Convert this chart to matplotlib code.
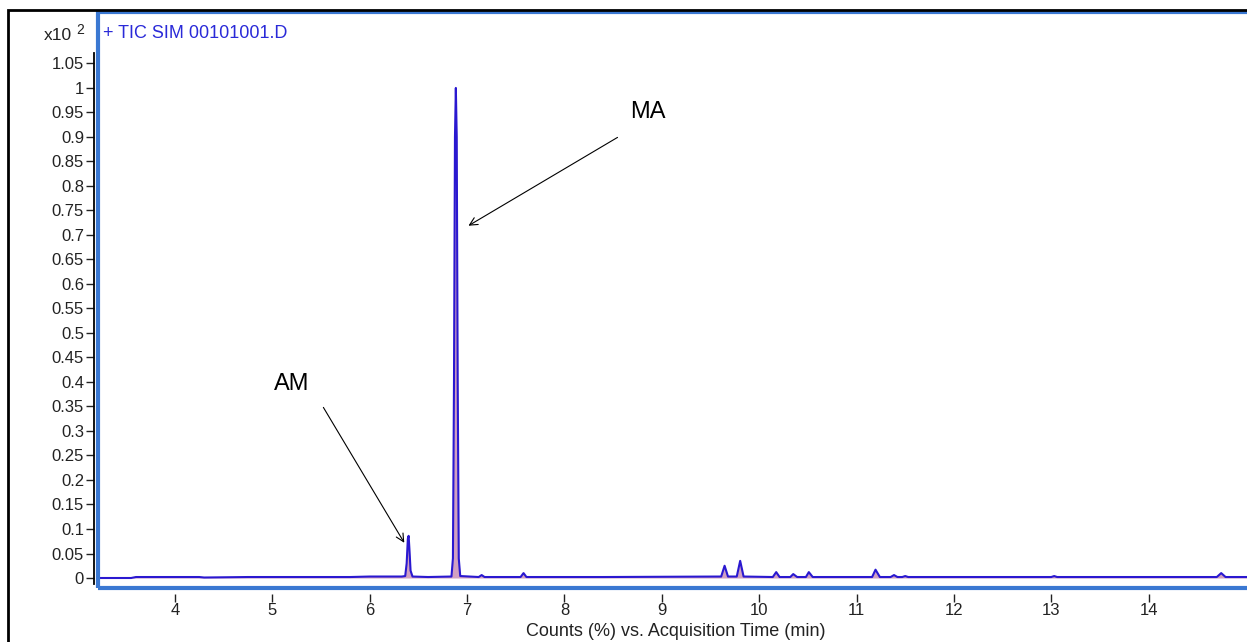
import matplotlib.pyplot as plt
import numpy as np
from matplotlib.patches import Rectangle
from matplotlib.ticker import FuncFormatter

plt.rcParams['font.family'] = ['Liberation Sans', 'DejaVu Sans']

# chromatogram vertices (time in min, counts x10^2 %)
times = [3.22, 3.55, 3.60, 4.25, 4.30, 4.75, 5.05, 5.80, 6.00, 6.33,
         6.365, 6.38, 6.392, 6.40, 6.408, 6.42, 6.44, 6.60, 6.84,
         6.855, 6.866, 6.876, 6.885, 6.894, 6.904, 6.915, 6.93, 7.12, 7.15, 7.18,
         7.40, 7.55, 7.58, 7.61, 8.40, 9.61, 9.645, 9.68, 9.77, 9.805,
         9.84, 10.14, 10.175, 10.21, 10.32, 10.35, 10.39, 10.48, 10.51,
         10.55, 11.16, 11.195, 11.24, 11.35, 11.385, 11.42, 11.47, 11.50,
         11.53, 13.00, 13.03, 13.06, 14.70, 14.745, 14.79, 15.20]
counts = [0.0, 0.0, 0.002, 0.002, 0.001, 0.002, 0.002, 0.002, 0.003, 0.003,
          0.004, 0.03, 0.08, 0.086, 0.06, 0.015, 0.003, 0.002, 0.003,
          0.04, 0.4, 0.9, 1.0, 0.9, 0.4, 0.04, 0.004, 0.002, 0.006, 0.002,
          0.002, 0.002, 0.010, 0.002, 0.002, 0.003, 0.025, 0.003, 0.003, 0.035,
          0.003, 0.002, 0.012, 0.002, 0.002, 0.008, 0.002, 0.002, 0.012,
          0.002, 0.002, 0.017, 0.002, 0.002, 0.006, 0.002, 0.002, 0.004,
          0.002, 0.002, 0.004, 0.002, 0.002, 0.010, 0.002, 0.002]

ytick_vals = [round(0.05 * i, 2) for i in range(22)]
xtick_vals = [4, 5, 6, 7, 8, 9, 10, 11, 12, 13, 14]

W, H = 1247, 642
fig = plt.figure(figsize=(W / 100, H / 100), dpi=100)
ax = fig.add_axes([98 / W, 1 - 588 / H, 0.93, (588 - 12) / H])

frame_blue = '#3a78d2'
trace_blue = '#2a18d0'

ax.fill_between(times, 0, counts, color='#c98fb6', alpha=0.85, lw=0)
ax.plot(times, counts, color=trace_blue, lw=1.5)

ax.set_xlim(3.21, 15.12)
ax.set_ylim(-0.0204, 1.155)

# axes styling
for s in ['top', 'right']:
    ax.spines[s].set_visible(False)
ax.spines['left'].set_position(('outward', 3))
ax.spines['left'].set_bounds(-0.012, 1.071)
ax.spines['left'].set_linewidth(1.3)
ax.spines['bottom'].set_position(('outward', 4))
ax.spines['bottom'].set_color('none')
ax.add_patch(Rectangle((0, 0), 1, 1, transform=ax.transAxes, fill=False,
                       ec=frame_blue, lw=3, clip_on=False, zorder=5))

ax.set_yticks(ytick_vals)
ax.yaxis.set_major_formatter(FuncFormatter(lambda v, p: '%g' % v))
ax.set_xticks(xtick_vals)
ax.tick_params(axis='y', length=6, width=1, labelsize=12, pad=1, colors='#222222')
ax.tick_params(axis='x', length=6, width=1, labelsize=12, pad=1, colors='#222222')

# annotations
ax.annotate('', xy=(6.37, 0.067), xytext=(5.51, 0.353),
            arrowprops=dict(arrowstyle='->', lw=0.8, color='black', mutation_scale=14))
ax.text(5.20, 0.396, 'AM', fontsize=17, ha='center', va='center')
ax.annotate('', xy=(6.99, 0.716), xytext=(8.57, 0.902),
            arrowprops=dict(arrowstyle='->', lw=0.8, color='black', mutation_scale=14))
ax.text(8.86, 0.951, 'MA', fontsize=17, ha='center', va='center')

# header texts
fig.text(72 / W, 1 - 35 / H, 'x10', fontsize=12.5, ha='right', va='center', color='#222222')
fig.text(76 / W, 1 - 30 / H, '2', fontsize=10, ha='left', va='center', color='#222222')
fig.text(103 / W, 1 - 33 / H, '+ TIC SIM 00101001.D', fontsize=13, ha='left',
         va='center', color='#2a2ad8')
fig.text(676 / W, 1 - 632 / H, 'Counts (%) vs. Acquisition Time (min)', fontsize=13,
         ha='center', va='center', color='#222222')

# outer panel border
fig.add_artist(Rectangle((8 / W, -0.1), 1.1, 1 - 10 / H + 0.1, transform=fig.transFigure,
                         fill=False, ec='black', lw=2))

fig.savefig('out.png', dpi=100)
